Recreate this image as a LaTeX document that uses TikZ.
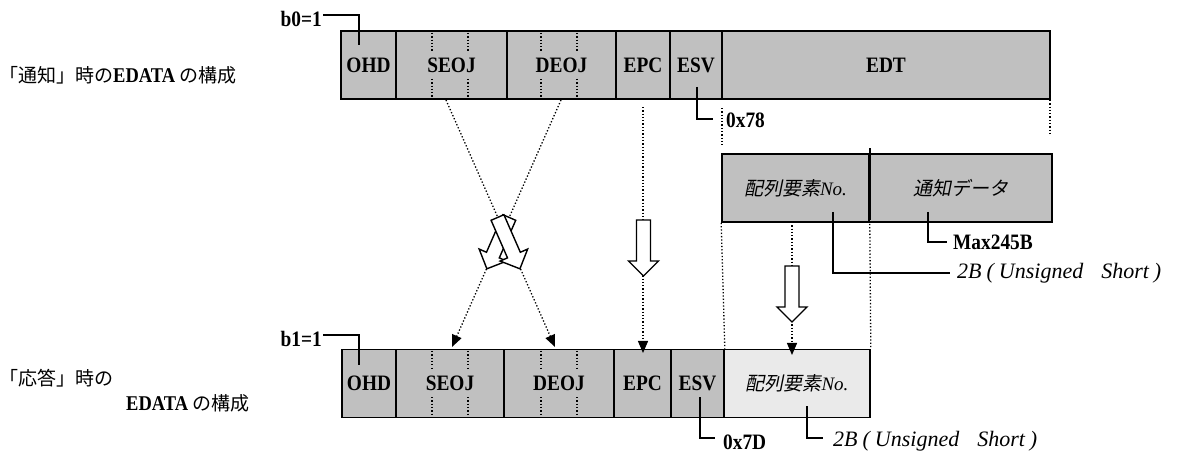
\documentclass[tikz,border=0pt]{standalone}
\usepackage{fontspec}
\setmainfont{Liberation Serif}[FakeStretch=0.88]
\newfontfamily\plainserif{Liberation Serif}
\newfontfamily\cjk{Noto Sans CJK JP}
\newfontfamily\cjkit[FakeSlant=0.2]{Noto Sans CJK JP}
\usetikzlibrary{arrows.meta}
\definecolor{cellgray}{RGB}{192,192,192}
\definecolor{lightcell}{RGB}{234,234,234}
\newcommand{\sizetext}{2B\hspace{5pt}(\hspace{5pt}Unsigned\hspace{18pt}Short\hspace{5pt})}
\begin{document}
\begin{tikzpicture}[x=1pt,y=-1pt,
  cell/.style={draw=black, line width=1.6pt, fill=cellgray, minimum height=68pt, inner sep=0pt,
    font=\fontsize{22}{22}\selectfont\bfseries},
  jcell/.style={cell, font=\fontsize{19}{20}\selectfont\mdseries},
  lbl/.style={inner sep=0pt, anchor=west, font=\fontsize{22}{22}\selectfont\bfseries},
  itl/.style={inner sep=0pt, anchor=west, font=\fontsize{22}{22}\selectfont\plainserif\itshape},
  side/.style={inner sep=0pt, anchor=west, font=\fontsize{21}{22}\selectfont\bfseries},
  leader/.style={line width=1.4pt},
  dots/.style={line width=1.3pt, dash pattern=on 1.3pt off 2pt},
  dotarrow/.style={dots, -{Triangle[length=12pt,width=10pt]}},
  hollow/.pic={\draw[line width=1.4pt, fill=white, line join=miter]
      (-7,0) -- (7,0) -- (7,41) -- (15,41) -- (0,56) -- (-15,41) -- (-7,41) -- cycle;}
]
\useasboundingbox (0,0) rectangle (1189,454);

% side labels
\node[side] (lab1) at (-1,75) {{\cjk\mdseries\fontsize{19}{20}\selectfont 「通知」時の}EDATA {\cjk\mdseries\fontsize{19}{20}\selectfont の構成}};
\node[side] (lab2) at (-1,378) {\cjk\mdseries\fontsize{19}{20}\selectfont 「応答」時の};
\node[side] (lab3) at (126,403) {EDATA {\cjk\mdseries\fontsize{19}{20}\selectfont の構成}};

% top bar
\node[cell, minimum width=55pt]  (ohd1)  at (368.5,65) {OHD};
\node[cell, minimum width=111pt] (seoj1) at (451.5,65) {SEOJ};
\node[cell, minimum width=109pt] (deoj1) at (561.5,65) {DEOJ};
\node[cell, minimum width=54pt]  (epc1)  at (643,65)   {EPC};
\node[cell, minimum width=52pt]  (esv1)  at (696,65)   {ESV};
\node[cell, minimum width=328pt] (edt1)  at (886,65)   {EDT};
\foreach \x in {432,468,541,577} {
  \draw[dots] (\x,33) -- (\x,52);
  \draw[dots] (\x,79) -- (\x,98);
}

% bottom bar
\node[cell, minimum width=54pt]  (ohd2)  at (369,383.5)   {OHD};
\node[cell, minimum width=108pt] (seoj2) at (450,383.5)   {SEOJ};
\node[cell, minimum width=110pt] (deoj2) at (559,383.5)   {DEOJ};
\node[cell, minimum width=57pt]  (epc2)  at (642.5,383.5) {EPC};
\node[cell, minimum width=53pt]  (esv2)  at (697.5,383.5) {ESV};
\node[jcell, fill=lightcell, minimum width=146pt] (idx2) at (797,383.5) {{\cjkit 配列要素}{\plainserif\itshape No.}};
\foreach \x in {432,468,541,577} {
  \draw[dots] (\x,351) -- (\x,370);
  \draw[dots] (\x,397) -- (\x,416);
}

% middle box
\node[jcell, minimum width=147pt] (idx1) at (795.5,188) {{\cjkit 配列要素}{\plainserif\itshape No.}};
\node[jcell, minimum width=183pt] (dat1) at (960.5,188) {\cjkit 通知データ};
\draw[line width=1.6pt] ([yshift=5pt]idx1.north east) -- ([yshift=3pt]idx1.south east);

% bit labels
\node[lbl, anchor=east] (b0) at (322,19) {b0=1};
\coordinate (b0t) at (359,45);
\draw[leader] ([yshift=4pt,xshift=1pt]b0.east) -| (b0t);
\node[lbl, anchor=east] (b1) at (322,339) {b1=1};
\coordinate (b1t) at (359,365);
\draw[leader] ([yshift=4pt,xshift=1pt]b1.east) -| (b1t);

% ESV values
\node[lbl] (v78) at (726,120) {0x78};
\coordinate (esv1p) at (697,87);
\draw[leader] (esv1p) |- ([xshift=-13pt,yshift=1pt]v78.west);
\node[lbl] (v7d) at (723,442) {0x7D};
\coordinate (esv2p) at (700,397);
\draw[leader] (esv2p) |- ([xshift=-8pt,yshift=4pt]v7d.west);

% middle leaders
\node[itl] (sz1) at (957,273) {\sizetext};
\coordinate (idx1p) at (833,212);
\draw[leader] (idx1p) |- ([xshift=-7pt]sz1.west);
\node[lbl] (mx) at (953,242) {Max245B};
\coordinate (dat1p) at (928,212);
\draw[leader] (dat1p) |- ([xshift=-6pt]mx.west);

\node[itl] (sz2) at (833,441) {\sizetext};
\coordinate (idx2p) at (807,406);
\draw[leader] (idx2p) |- ([xshift=-10pt,yshift=3pt]sz2.west);

% dotted guides
\coordinate (g1a) at (722,108); \coordinate (g1b) at (722,145);
\draw[dots] (g1a) -- (g1b);
\coordinate (g2a) at (1050,100); \coordinate (g2b) at (1050,135);
\draw[dots] (g2a) -- (g2b);
\draw[dots] (idx1.south west) -- (esv2.north east);
\draw[dots] ([yshift=-1pt]idx1.south east) -- (idx2.north east);

% crossing
\coordinate (sTop) at (446,100); \coordinate (dTop) at (561,100);
\coordinate (sBot) at (452,347); \coordinate (dBot) at (555,347);
\draw[dotarrow] (sTop) -- (dBot);
\draw[dotarrow] (dTop) -- (sBot);
\path (509.3,217.5) pic[rotate=-23.6] {hollow};
\path (497.5,217.5) pic[rotate=23.6] {hollow};

% EPC
\coordinate (epcA) at (643,107); \coordinate (epcB) at (643,353);
\draw[dotarrow] (epcA) -- (epcB);
\path (643.5,220) pic {hollow};

% array index
\coordinate (ixA) at (792,222); \coordinate (ixB) at (792,355);
\draw[dotarrow] (ixA) -- (ixB);
\path (792,266) pic {hollow};
\end{tikzpicture}
\end{document}
